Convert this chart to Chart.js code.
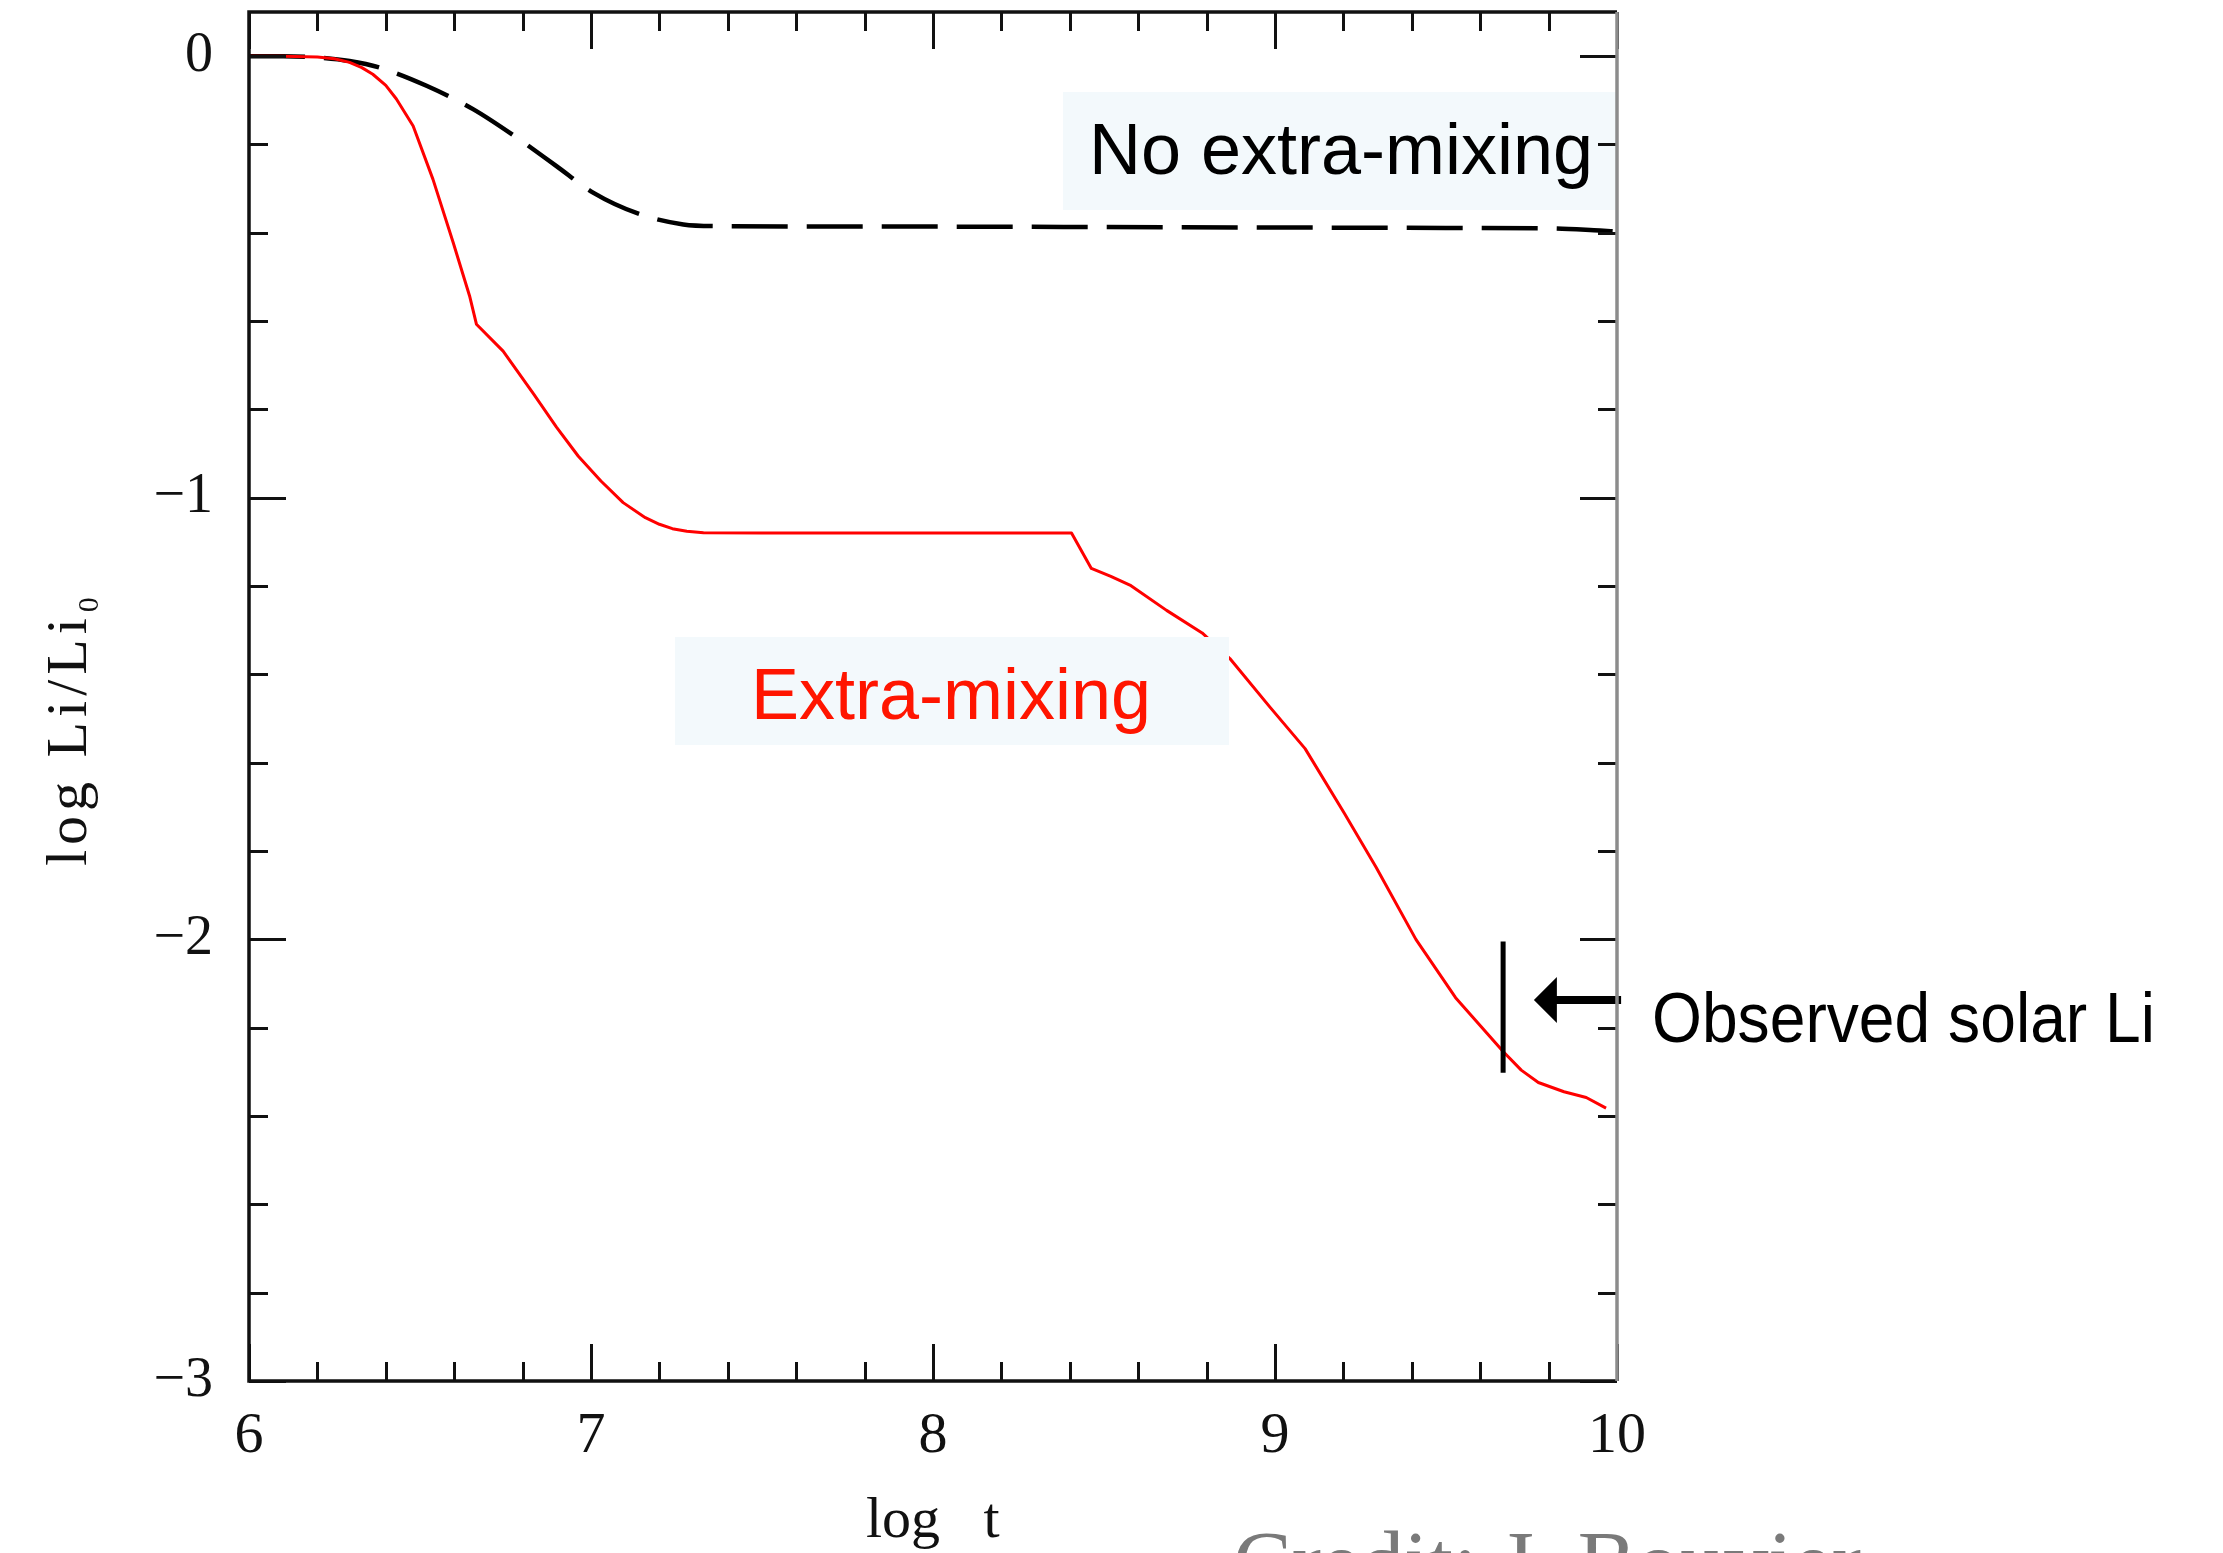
<!DOCTYPE html>
<html><head><meta charset="utf-8">
<script src="https://cdn.jsdelivr.net/npm/chart.js@4.4.1/dist/chart.umd.min.js"></script>
<style>html,body{margin:0;padding:0;background:#fff;overflow:hidden}#wrap{width:2223px;height:1553px;position:relative}canvas{display:block}</style>
</head><body><div id="wrap"><canvas id="c" width="2223" height="1553"></canvas></div>
<script>
// ---- data ----
const extraX = [6.0, 6.1, 6.2, 6.25, 6.294, 6.33, 6.362, 6.4, 6.431, 6.48, 6.538, 6.597, 6.645, 6.665, 6.743, 6.833, 6.899, 6.963, 7.029, 7.094, 7.159, 7.2, 7.238, 7.28, 7.329, 7.5, 8.0, 8.405, 8.463, 8.52, 8.579, 8.683, 8.787, 8.868, 8.984, 9.088, 9.204, 9.296, 9.412, 9.528, 9.667, 9.72, 9.77, 9.845, 9.91, 9.968];
const extraY = [0, 0, -0.002, -0.006, -0.014, -0.026, -0.041, -0.066, -0.097, -0.158, -0.279, -0.422, -0.543, -0.607, -0.668, -0.766, -0.84, -0.906, -0.962, -1.011, -1.045, -1.06, -1.07, -1.076, -1.079, -1.08, -1.08, -1.08, -1.16, -1.178, -1.199, -1.255, -1.306, -1.364, -1.473, -1.568, -1.716, -1.837, -2.0, -2.132, -2.254, -2.296, -2.324, -2.345, -2.358, -2.382];
const noMixX = [6.0, 6.1, 6.2, 6.294, 6.382, 6.519, 6.655, 6.782, 6.899, 7.006, 7.143, 7.27, 7.377, 7.6, 8.0, 8.5, 9.0, 9.5, 9.8, 9.95, 10.0];
const noMixY = [0, 0, -0.003, -0.011, -0.026, -0.067, -0.12, -0.184, -0.249, -0.309, -0.358, -0.381, -0.385, -0.386, -0.386, -0.387, -0.388, -0.389, -0.39, -0.395, -0.397];
const xTickValues = [6, 7, 8, 9, 10];
const xTickLabels = ['6', '7', '8', '9', '10'];
const yTickValues = [0, -1, -2, -3];
const yTickLabels = ['0', '\u22121', '\u22122', '\u22123'];
const solarX = [9.667, 9.667];
const solarY = [-2.005, -2.302];
const arrowX = [10.012, 9.757];
const arrowY = [-2.137, -2.137];
const xTitle = 'log   t';
const yTitle = 'log Li/Li';
const yTitleSub = '0';
const labelNoMix = 'No extra-mixing';
const labelExtra = 'Extra-mixing';
const labelSolar = 'Observed solar Li';
const creditText = 'Credit: J. Bouvier';

const SERIF = '"Liberation Serif", "DejaVu Serif", serif';
const SANS = '"Liberation Sans", Arial, sans-serif';

const decor = {
  id: 'decor',
  beforeDraw(chart) {
    const c = chart.ctx;
    c.save();
    c.fillStyle = '#ffffff';
    c.fillRect(0, 0, chart.width, chart.height);
    c.restore();
  },
  afterDatasetsDraw(chart) {
    const c = chart.ctx, xs = chart.scales.x, ys = chart.scales.y;
    const a = chart.chartArea;
    c.save();
    // faint label boxes (they hide part of the curve, as in the reference)
    c.fillStyle = '#f3f9fc';
    c.fillRect(1063, 92, a.right - 1063, 118);
    c.fillRect(675, 637, 1229 - 675, 108);
    // labels
    c.textBaseline = 'alphabetic';
    c.fillStyle = '#000';
    c.font = '72px ' + SANS;
    c.fillText(labelNoMix, 1089, 174);
    c.fillStyle = '#ff1500';
    c.fillText(labelExtra, 751, 719);
    c.fillStyle = '#000';
    c.font = '70px ' + SANS;
    c.fillText(labelSolar, 1652, 1042, 503);
    // observed solar Li bar
    c.strokeStyle = '#000';
    c.lineWidth = 5;
    c.beginPath();
    c.moveTo(xs.getPixelForValue(solarX[0]), ys.getPixelForValue(solarY[0]));
    c.lineTo(xs.getPixelForValue(solarX[1]), ys.getPixelForValue(solarY[1]));
    c.stroke();
    // arrow
    const ax0 = xs.getPixelForValue(arrowX[0]), ay = ys.getPixelForValue(arrowY[0]);
    const ax1 = xs.getPixelForValue(arrowX[1]);
    c.lineWidth = 8;
    c.beginPath();
    c.moveTo(ax0, ay);
    c.lineTo(ax1 + 18, ay);
    c.stroke();
    c.fillStyle = '#000';
    c.beginPath();
    c.moveTo(ax1, ay);
    c.lineTo(ax1 + 23, ay - 23);
    c.lineTo(ax1 + 23, ay + 23);
    c.closePath();
    c.fill();
    c.restore();
  },
  afterDraw(chart) {
    const c = chart.ctx, xs = chart.scales.x, ys = chart.scales.y;
    const a = chart.chartArea;
    c.save();
    // ticks on all four sides (inward)
    c.strokeStyle = '#111';
    c.lineWidth = 3;
    const MAJ = 37, MIN = 19;
    for (let i = 0; i <= 20; i++) {
      const v = 6 + i * 0.2;
      const px = Math.round(xs.getPixelForValue(v)) + 0.5;
      const len = (i % 5 === 0) ? MAJ : MIN;
      c.beginPath();
      c.moveTo(px, a.bottom); c.lineTo(px, a.bottom - len);
      c.moveTo(px, a.top); c.lineTo(px, a.top + len);
      c.stroke();
    }
    for (let i = 0; i <= 15; i++) {
      const v = -3 + i * 0.2;
      const py = Math.round(ys.getPixelForValue(v)) + 0.5;
      const len = (i % 5 === 0) ? MAJ : MIN;
      c.beginPath();
      c.moveTo(a.left, py); c.lineTo(a.left + len, py);
      c.moveTo(a.right, py); c.lineTo(a.right - len, py);
      c.stroke();
    }
    // frame
    c.lineWidth = 3.5;
    c.strokeStyle = '#111';
    c.beginPath();
    c.moveTo(a.right, a.top); c.lineTo(a.left, a.top); c.lineTo(a.left, a.bottom); c.lineTo(a.right, a.bottom);
    c.stroke();
    c.strokeStyle = '#8c8c8c';
    c.beginPath();
    c.moveTo(a.right, a.top); c.lineTo(a.right, a.bottom);
    c.stroke();
    // axis titles
    c.fillStyle = '#111';
    c.font = '58px ' + SERIF;
    c.textAlign = 'left';
    c.textBaseline = 'alphabetic';
    c.fillText(xTitle, 866, 1537);
    c.save();
    c.translate(86, 866);
    c.rotate(-Math.PI / 2);
    c.letterSpacing = '5px';
    c.fillText(yTitle, 0, 0);
    const w = c.measureText(yTitle).width;
    c.font = '30px ' + SERIF;
    c.letterSpacing = '0px';
    c.fillText(yTitleSub, w + 1, 12);
    c.restore();
    // credit (cut by the bottom edge, as in the reference)
    c.fillStyle = '#7a7a7a';
    c.font = '88px ' + SERIF;
    c.fillText(creditText, 1233, 1592);
    c.restore();
  }
};

new Chart(document.getElementById('c'), {
  type: 'line',
  data: {
    datasets: [
      {
        label: 'Extra-mixing',
        data: extraX.map((x, i) => ({x: x, y: extraY[i]})),
        borderColor: '#ff0000',
        borderWidth: 3,
        pointRadius: 0,
        tension: 0,
        borderJoinStyle: 'round',
        fill: false,
        order: 0
      },
      {
        label: 'No extra-mixing',
        data: noMixX.map((x, i) => ({x: x, y: noMixY[i]})),
        borderColor: '#000000',
        borderWidth: 4.5,
        borderDash: [56, 19],
        pointRadius: 0,
        cubicInterpolationMode: 'monotone',
        fill: false,
        order: 1
      }
    ]
  },
  options: {
    responsive: false,
    animation: false,
    devicePixelRatio: 1,
    layout: {padding: {top: 12, right: 606, left: 0, bottom: 0}},
    plugins: {legend: {display: false}, tooltip: {enabled: false}, title: {display: false}},
    scales: {
      x: {
        type: 'linear', min: 6, max: 10,
        grid: {display: false, drawTicks: false},
        border: {display: false},
        afterFit(s) { s.height = 172; s.paddingLeft = 0; s.paddingRight = 0; },
        afterBuildTicks(s) { s.ticks = xTickValues.map(v => ({value: v})); },
        ticks: {
          font: {family: SERIF, size: 58}, color: '#111', padding: 21, maxRotation: 0,
          callback: (v) => xTickLabels[xTickValues.indexOf(v)]
        }
      },
      y: {
        type: 'linear', min: -3, max: 0.1,
        grid: {display: false, drawTicks: false},
        border: {display: false},
        afterFit(s) { s.width = 249; s.paddingTop = 0; s.paddingBottom = 0; },
        afterBuildTicks(s) { s.ticks = yTickValues.map(v => ({value: v})); },
        ticks: {
          font: {family: SERIF, size: 56}, color: '#111', padding: 36,
          callback: (v) => yTickLabels[yTickValues.indexOf(v)]
        }
      }
    }
  },
  plugins: [decor]
});
</script>
</body></html>
